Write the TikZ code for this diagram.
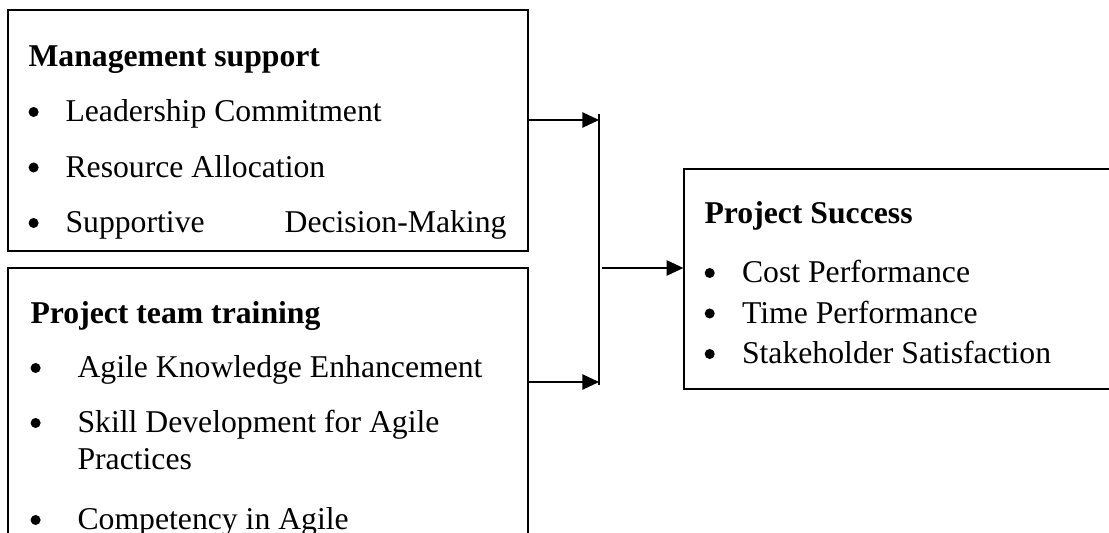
\documentclass[tikz,border=0pt]{standalone}
\usepackage{fontspec}
\setmainfont{Liberation Serif}
\usetikzlibrary{arrows.meta,fit}
\tikzset{
  box/.style={draw, line width=0.5pt, inner sep=0pt},
  txt/.style={anchor=base west, inner sep=0pt, font=\fontsize{12}{14}\selectfont},
  head/.style={txt, font=\fontsize{12}{14}\selectfont\bfseries},
  arr/.style={-{Triangle[length=6.3pt,width=5.8pt]}, line width=0.5pt},
}
\begin{document}
\begin{tikzpicture}[x=0.3785pt, y=-0.3785pt]
  \useasboundingbox (0,0) rectangle (1109,533);
  \clip (0,0) rectangle (1109,533);
  % the three boxes
  \node[box, fit={(8,10) (528,251)}] (mgmt) {};
  \node[box, fit={(8,268) (528,570)}] (train) {};
  \node[box, fit={(684,169) (1130,389)}] (succ) {};
  % management support
  \node[head] (mgmtT) at (28,67) {Management support};
  \foreach \t [count=\i] in {Leadership Commitment, Resource Allocation, {\makebox[166.9pt][s]{Supportive Decision-Making}}} {
    \pgfmathsetmacro\yy{122+55.5*(\i-1)}
    \fill (33.6,\yy-10) circle[radius=1.9pt];
    \node[txt] (mgmt\i) at (65,\yy) {\t};
  }
  % project team training
  \node[head] (trainT) at (30,324) {Project team training};
  \foreach \yy/\t [count=\i] in {378/Agile Knowledge Enhancement, 433/Skill Development for Agile, 530/Competency in Agile} {
    \fill (35.6,\yy-10) circle[radius=1.9pt];
    \node[txt] (train\i) at (77,\yy) {\t};
  }
  \node[txt] (trainP) at (77,470) {Practices};
  % project success
  \node[head] (succT) at (704,224) {Project Success};
  \foreach \t [count=\i] in {Cost Performance, Time Performance, Stakeholder Satisfaction} {
    \pgfmathsetmacro\yy{283+40.5*(\i-1)}
    \fill (709.7,\yy-10) circle[radius=1.9pt];
    \node[txt] (succ\i) at (741.5,\yy) {\t};
  }
  % connectors
  \coordinate (inA) at (599,120); \coordinate (inB) at (599,382);
  \coordinate (busT) at (599,114); \coordinate (busB) at (599,385);
  \coordinate (out) at (602,268);
  \draw[arr] (mgmt.east |- inA) -- (inA);
  \draw[arr] (train.east |- inB) -- (inB);
  \draw[line width=0.5pt] (busT) -- (busB);
  \draw[arr] (out) -- (succ.west |- out);
\end{tikzpicture}
\end{document}
